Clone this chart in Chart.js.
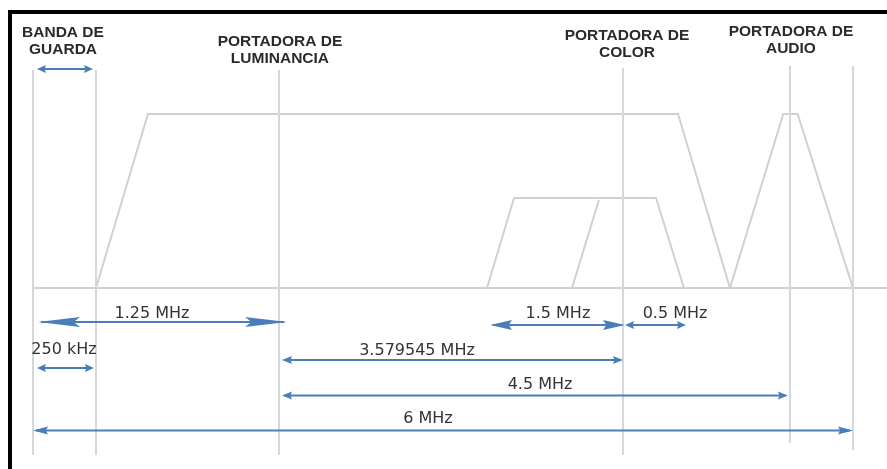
<!DOCTYPE html>
<html lang="es">
<head>
<meta charset="UTF-8">
<title>Espectro de un canal de TV</title>
<script src="https://cdn.jsdelivr.net/npm/chart.js@4"></script>
<style>
    body { margin: 0; background: #fff; }
    #wrap { position: relative; width: 887px; height: 469px; }
</style>
</head>
<body>
<div id="wrap"><canvas id="spectrum" width="887" height="469"></canvas></div>
<script>
// schematic units: x = 0 at start of guard band, 6 at channel end (not to scale)
// y = 0 on the baseline, 1 = luminance peak
const markerX = [0, 0.461, 1.800, 4.317, 5.539, 6.0];
const markerTop = [1.253, 1.253, 1.253, 1.264, 1.276, 1.276];
const markerBottom = [-0.960, -0.960, -0.960, -0.960, -0.891, -0.931];

const baseX = [0, 6.249];
const baseY = [0, 0];
const lumaX = [0.461, 0.841, 4.720, 5.100];
const lumaY = [0, 1, 1, 0];
const audioX = [5.100, 5.490, 5.595, 6.0];
const audioY = [0, 1, 1, 0];
const chromaX = [3.322, 3.520, 4.559, 4.763];
const chromaY = [0, 0.517, 0.517, 0];
const chromaInnerX = [3.944, 4.141];
const chromaInnerY = [0, 0.506];

// dimension arrows
const arrowFrom = [0.029, 0.037, 0.029, 3.344, 4.332, 1.822, 1.822, 0];
const arrowTo = [0.439, 1.859, 0.446, 4.332, 4.778, 4.317, 5.524, 6.0];
const arrowY = [1.259, -0.195, -0.460, -0.213, -0.213, -0.414, -0.618, -0.819];
const arrowHeadLen = [9, 42, 9, 22, 9, 10, 10, 15];

const measureText = ['1.25 MHz', '250 kHz', '1.5 MHz', '0.5 MHz', '3.579545 MHz', '4.5 MHz', '6 MHz'];
const measureX = [0.871, 0.227, 3.841, 4.698, 2.810, 3.710, 2.890];
const measureY = [-0.149, -0.356, -0.149, -0.149, -0.362, -0.557, -0.753];

const headerText = [['BANDA DE', 'GUARDA'], ['PORTADORA DE', 'LUMINANCIA'], ['PORTADORA DE', 'COLOR'], ['PORTADORA DE', 'AUDIO']];
const headerX = [0.2195, 1.807, 4.346, 5.546];
const headerY = [1.466, 1.414, 1.448, 1.471];

const LINE = '#cdd1d6';
const BLUE = '#4a7ebb';
const TEXT = '#333333';

function pts(xs, ys) {
    return xs.map((v, i) => ({ x: v, y: ys[i] }));
}

const datasets = [];
markerX.forEach((mx, i) => {
    datasets.push({ data: pts([mx, mx], [markerTop[i], markerBottom[i]]), borderColor: '#d4d7dc', borderWidth: 2 });
});
datasets.push({ data: pts(baseX, baseY), borderColor: LINE, borderWidth: 2 });
datasets.push({ data: pts(lumaX, lumaY), borderColor: LINE, borderWidth: 2 });
datasets.push({ data: pts(audioX, audioY), borderColor: LINE, borderWidth: 2 });
datasets.push({ data: pts(chromaX, chromaY), borderColor: LINE, borderWidth: 2 });
datasets.push({ data: pts(chromaInnerX, chromaInnerY), borderColor: LINE, borderWidth: 2 });
datasets.forEach(d => { d.showLine = true; d.pointRadius = 0; d.fill = false; d.tension = 0; });

function head(ctx, tipX, y, dir, len) {
    const half = len > 20 ? 5 : 4;
    ctx.beginPath();
    ctx.moveTo(tipX, y);
    ctx.lineTo(tipX - dir * len, y - half);
    ctx.lineTo(tipX - dir * len * 0.85, y);
    ctx.lineTo(tipX - dir * len, y + half);
    ctx.closePath();
    ctx.fill();
}

const overlay = {
    id: 'overlay',
    beforeDraw(chart) {
        const ctx = chart.ctx;
        ctx.save();
        ctx.fillStyle = '#fff';
        ctx.fillRect(0, 0, chart.width, chart.height);
        ctx.restore();
    },
    afterDatasetsDraw(chart) {
        const { ctx, scales: { x, y } } = chart;
        ctx.save();

        // arrows
        ctx.strokeStyle = BLUE;
        ctx.fillStyle = BLUE;
        ctx.lineWidth = 2;
        arrowFrom.forEach((a, i) => {
            const x0 = x.getPixelForValue(a);
            const x1 = x.getPixelForValue(arrowTo[i]);
            const py = y.getPixelForValue(arrowY[i]);
            ctx.beginPath();
            ctx.moveTo(x0 + 3, py);
            ctx.lineTo(x1 - 3, py);
            ctx.stroke();
            head(ctx, x0, py, -1, arrowHeadLen[i]);
            head(ctx, x1, py, 1, arrowHeadLen[i]);
        });

        // measurement labels
        ctx.fillStyle = TEXT;
        ctx.textAlign = 'center';
        ctx.textBaseline = 'middle';
        ctx.font = '16px "DejaVu Sans"';
        measureText.forEach((t, i) => {
            ctx.fillText(t, x.getPixelForValue(measureX[i]), y.getPixelForValue(measureY[i]));
        });

        // headers
        ctx.fillStyle = '#2a2a2a';
        ctx.font = 'bold 15.5px "Liberation Sans"';
        headerText.forEach((lines, i) => {
            const cx = x.getPixelForValue(headerX[i]);
            const cy = y.getPixelForValue(headerY[i]);
            lines.forEach((l, j) => ctx.fillText(l, cx, cy + j * 17));
        });

        // frame
        ctx.fillStyle = '#000';
        ctx.fillRect(8, 10, chart.width - 8, 4);
        ctx.fillRect(8, 10, 4, chart.height - 10);
        ctx.restore();
    }
};

new Chart(document.getElementById('spectrum'), {
    type: 'scatter',
    data: { datasets: datasets },
    options: {
        responsive: false,
        animation: false,
        layout: { padding: 0 },
        plugins: { legend: { display: false }, tooltip: { enabled: false } },
        scales: {
            x: { type: 'linear', display: false, min: -0.2415, max: 6.249 },
            y: { type: 'linear', display: false, min: -1.040, max: 1.655 }
        }
    },
    plugins: [overlay]
});
</script>
</body>
</html>
